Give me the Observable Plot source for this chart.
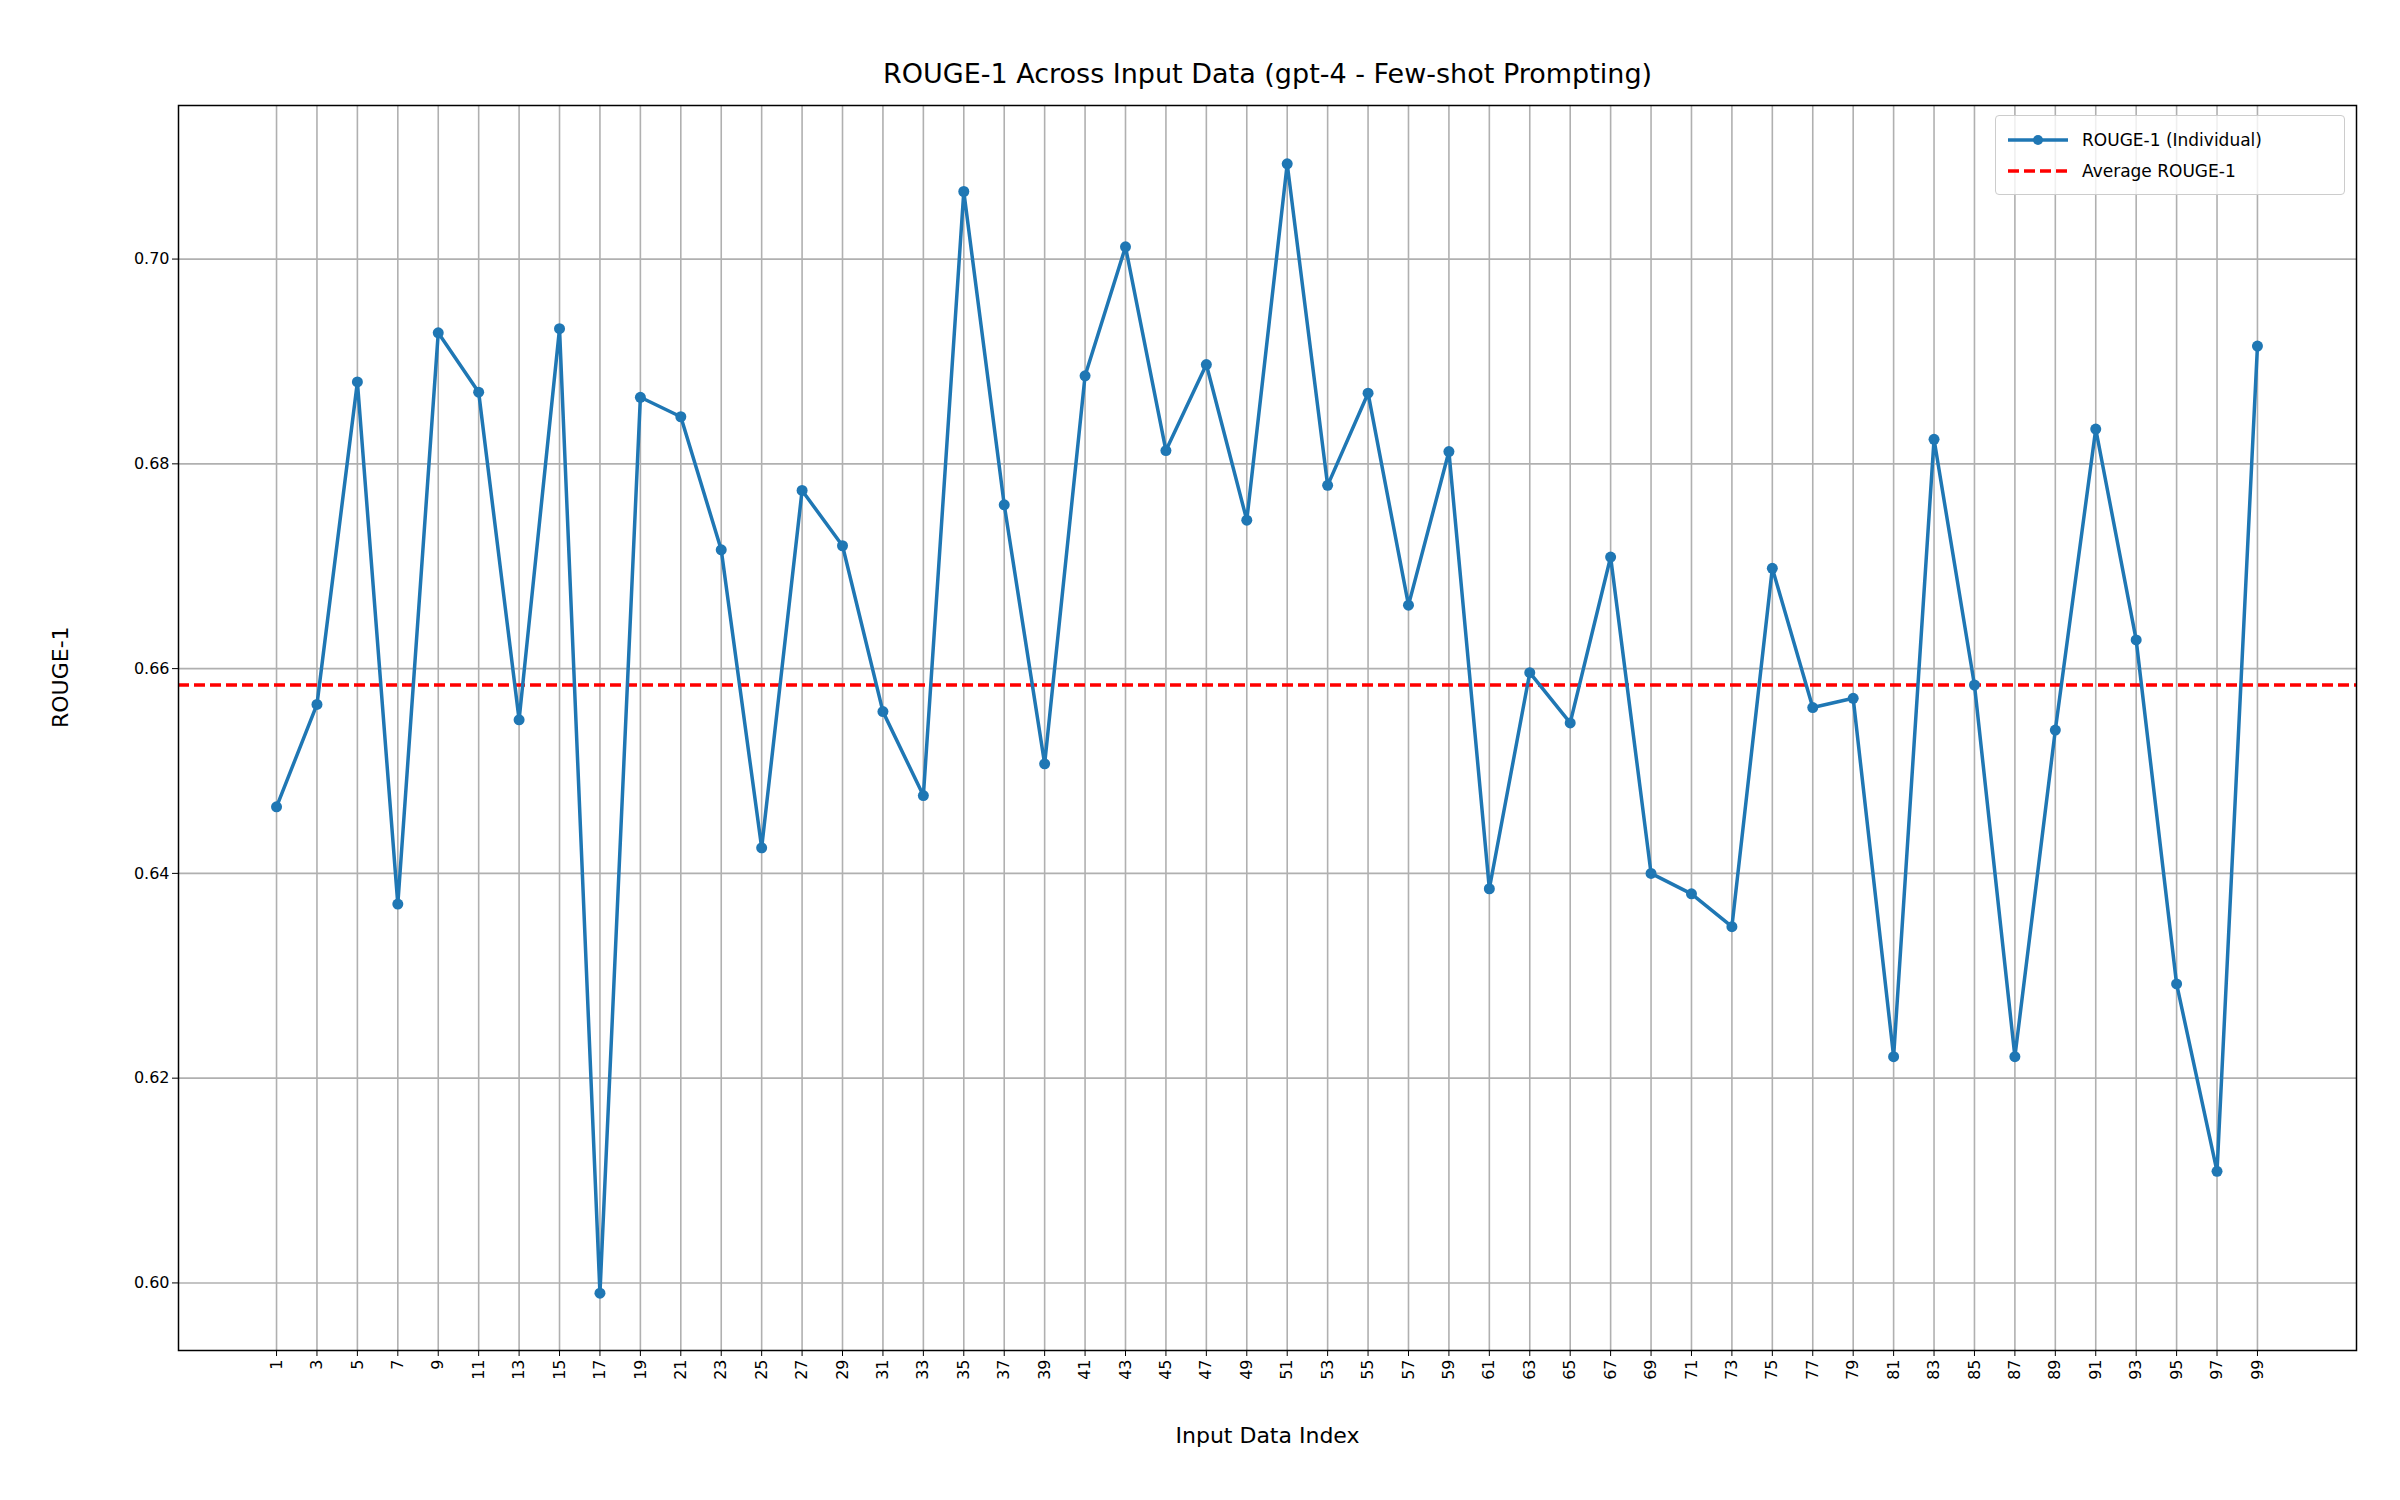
<!DOCTYPE html>
<html>
<head>
<meta charset="utf-8">
<script src="https://cdn.jsdelivr.net/npm/d3@7"></script>
<script src="https://cdn.jsdelivr.net/npm/@observablehq/plot@0.6"></script>
<style>
  body { margin: 0; background: white; font-family: "DejaVu Sans", sans-serif; }
  #wrap { position: relative; width: 2400px; height: 1500px; }
  #legend { position: absolute; left: 1995px; top: 115px; width: 350px; height: 80px;
    border: 1.5px solid #ccc; border-radius: 4px; background: rgba(255,255,255,0.8);
    font-size: 17px; box-sizing: border-box; padding: 8px 12px; }
  .row { display: flex; align-items: center; height: 31px; }
  .row svg { margin-right: 14px; }
</style>
</head>
<body>
<div id="wrap">
  <div id="chart"></div>
  <div id="legend">
    <div class="row"><svg width="60" height="16"><line x1="0" y1="8" x2="60" y2="8" stroke="#1f77b4" stroke-width="3.5"/><circle cx="30" cy="8" r="5" fill="#1f77b4"/></svg>ROUGE-1 (Individual)</div>
    <div class="row"><svg width="60" height="16"><line x1="0" y1="8" x2="60" y2="8" stroke="#ff0000" stroke-width="3.5" stroke-dasharray="11,5"/></svg>Average ROUGE-1</div>
  </div>
</div>
<script>
// indices 1, 3, ..., 99
const indices = [1,3,5,7,9,11,13,15,17,19,21,23,25,27,29,31,33,35,37,39,41,43,45,47,49,
  51,53,55,57,59,61,63,65,67,69,71,73,75,77,79,81,83,85,87,89,91,93,95,97,99]
const rouge1 = [0.6465,0.6565,0.688,0.637,0.6928,0.687,0.655,0.6932,0.599,0.6865,
  0.6846,0.6716,0.6425,0.6774,0.672,0.6558,0.6476,0.7066,0.676,0.6507,
  0.6886,0.7012,0.6813,0.6897,0.6745,0.7093,0.6779,0.6869,0.6662,0.6812,
  0.6385,0.6596,0.6547,0.6709,0.640,0.638,0.6348,0.6698,0.6562,0.6571,
  0.6221,0.6824,0.6584,0.6221,0.654,0.6834,0.6628,0.6292,0.6109,0.6915]
const average = 0.6584
const yTicks = [0.60, 0.62, 0.64, 0.66, 0.68, 0.70]

const data = indices.map((d, i) => ({idx: d, v: rouge1[i]}))

let chart = Plot.plot({
  width: 2400,
  height: 1500,
  marginTop: 105,
  marginBottom: 150,
  marginLeft: 178,
  marginRight: 44,
  style: {fontFamily: "DejaVu Sans", fontSize: "16px", color: "black"},
  x: {domain: [-3.85, 103.9], ticks: indices, tickFormat: d => d, tickRotate: -90, tickSize: 6,
      label: null},
  y: {domain: [0.5934, 0.715], ticks: yTicks, tickFormat: d3.format(".2f"), tickSize: 6, label: null},
  marks: [
    Plot.gridX(indices, {stroke: "#b0b0b0", strokeOpacity: 1, strokeWidth: 1.6}),
    Plot.gridY(yTicks, {stroke: "#b0b0b0", strokeOpacity: 1, strokeWidth: 1.6}),
    Plot.ruleY([average], {stroke: "#ff0000", strokeWidth: 3.5, strokeDasharray: "11,5"}),
    Plot.line(data, {x: "idx", y: "v", stroke: "#1f77b4", strokeWidth: 3.5}),
    Plot.dot(data, {x: "idx", y: "v", fill: "#1f77b4", r: 5.5}),
    Plot.frame({stroke: "black", strokeWidth: 1.5}),
    Plot.text(["ROUGE-1 Across Input Data (gpt-4 - Few-shot Prompting)"],
      {frameAnchor: "top", dy: -42, fontSize: 27}),
    Plot.text(["Input Data Index"], {frameAnchor: "bottom", dy: 92, fontSize: 22}),
    Plot.text(["ROUGE-1"], {frameAnchor: "left", dx: -118, rotate: -90, fontSize: 22})
  ]
})
d3.select('#chart').append(() => chart)
</script>
</body>
</html>
